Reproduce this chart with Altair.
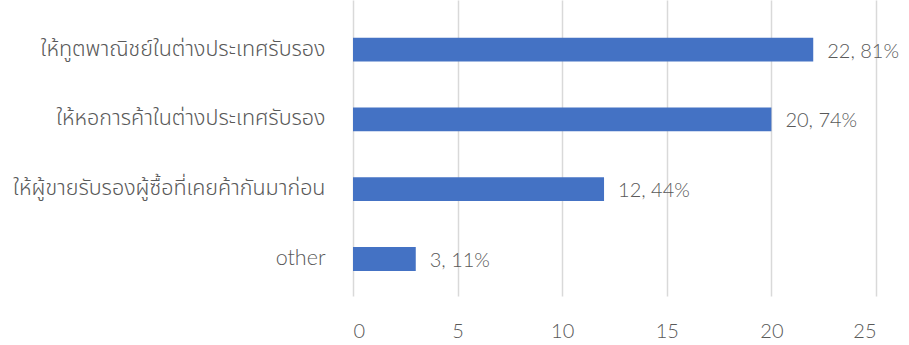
import altair as alt
import pandas as pd

categories = [
    "ให้ทูตพาณิชย์ในต่างประเทศรับรอง",
    "ให้หอการค้าในต่างประเทศรับรอง",
    "ให้ผู้ขายรับรองผู้ซื้อที่เคยค้ากันมาก่อน",
    "other",
]
counts = [22, 20, 12, 3]
percents = [81, 74, 44, 11]

df = pd.DataFrame({"category": categories, "count": counts, "pct": percents})
df["label"] = [f"{c}, {p}%" for c, p in zip(counts, percents)]

NUMFONT = "Lato"
THAIFONT = "Lato, 'Noto Sans Thai', 'Noto Sans'"
GRAY = "#595959"

x_scale = alt.Scale(domain=[0, 25])
y_scale = alt.Scale(paddingInner=0.657, paddingOuter=0.45, align=0.6, round=False)

base = alt.Chart(df).encode(
    y=alt.Y("category:N", sort=categories, scale=y_scale,
            axis=alt.Axis(title=None, ticks=False, domain=False, grid=False,
                          labelFont=THAIFONT, labelFontSize=21.5, labelFontWeight=300,
                          labelColor=GRAY, labelPadding=28, labelLimit=400)),
    x=alt.X("count:Q", scale=x_scale,
            axis=alt.Axis(title=None, values=[0, 5, 10, 15, 20, 25], ticks=False,
                          domain=False, grid=True, gridColor="#d9d9d9", gridWidth=1.5,
                          labelFont=NUMFONT, labelFontSize=20, labelFontWeight=300,
                          labelColor=GRAY, labelPadding=25)),
)

bars = base.mark_bar(color="#4472C4")

text = base.mark_text(align="left", baseline="middle", dx=14, dy=2,
                      font=NUMFONT, fontSize=20, fontWeight=300, color=GRAY).encode(
    text="label:N",
)

chart = (bars + text).properties(
    width=523, height=296,
    background="white",
    autosize=alt.AutoSizeParams(type="none"),
    padding={"left": 353, "top": 0, "right": 33, "bottom": 49},
).configure_view(stroke=None)

chart.save("out.html", embed_options={"renderer": "svg", "actions": False})
